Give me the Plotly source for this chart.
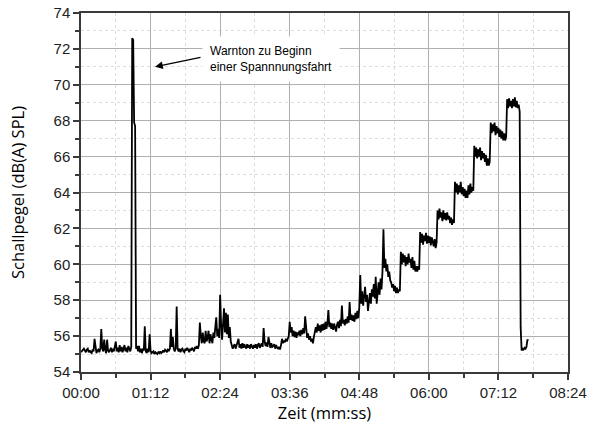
import plotly.graph_objects as go

# Sound level samples, one per second (dB(A) SPL)
level_dba = [
    # 0-49
    55.1, 55.15, 55.25, 55.3, 55.2, 55.1, 55.25, 55.3, 55.1, 55.2,
    55.1, 55.05, 55.25, 55.15, 55.85, 55.2, 55.05, 55.2, 55.25, 55.1,
    55.3, 56.4, 55.3, 55.15, 55.8, 55.25, 55.05, 55.8, 55.2, 55.1,
    55.25, 55.35, 55.1, 55.3, 55.15, 55.4, 55.7, 55.15, 55.35, 55.1,
    55.5, 55.15, 55.4, 55.1, 55.3, 55.5, 55.15, 55.35, 55.1, 55.45,
    # 50-99
    55.3, 55.15, 55.4, 72.6, 72.5, 67.9, 67.7, 55.3, 55.45, 55.15,
    55.45, 55.1, 55.3, 55.05, 55.25, 55.2, 56.55, 55.15, 55.05, 55.3,
    55.1, 56.1, 55.2, 55.05, 55.1, 55.15, 55.0, 55.1, 55.05, 55.0,
    55.1, 55.05, 55.15, 55.05, 55.1, 55.2, 55.1, 55.25, 55.2, 55.1,
    55.25, 55.2, 55.3, 56.4, 55.4, 55.95, 55.3, 55.15, 55.3, 57.65,
    # 100-149
    55.3, 55.15, 55.3, 55.1, 55.25, 55.3, 55.15, 55.1, 55.3, 55.2,
    55.35, 55.15, 55.1, 55.3, 55.2, 55.35, 55.2, 55.15, 55.4, 55.3,
    55.45, 55.3, 55.5, 56.75, 56.0, 55.6, 56.2, 55.7, 55.6, 56.3,
    55.7, 55.9, 56.3, 55.6, 56.1, 55.8, 55.6, 56.2, 55.9, 56.5,
    57.05, 56.0, 56.4, 55.9, 58.3, 56.6, 55.8, 56.7, 57.55, 56.2,
    # 150-199
    57.3, 56.1, 57.2, 55.9, 56.5, 55.7, 55.45, 55.3, 55.45, 55.55,
    55.3, 55.5, 55.6, 55.85, 55.35, 55.55, 55.3, 55.6, 55.35, 55.55,
    55.4, 55.3, 55.55, 55.35, 55.5, 55.3, 55.55, 55.35, 55.3, 55.5,
    55.35, 55.55, 55.3, 55.5, 55.6, 55.35, 55.55, 55.6, 55.4, 56.45,
    55.7, 55.45, 55.65, 55.4, 55.95, 55.5, 55.35, 55.6, 55.4, 55.45,
    # 200-249
    55.55, 55.3, 55.5, 55.35, 55.3, 55.4, 55.25, 55.5, 55.85, 55.6,
    55.75, 55.65, 55.85, 55.7, 55.9, 56.0, 56.8, 56.2, 56.5, 56.0,
    56.3, 55.95, 56.25, 55.9, 56.2, 56.05, 56.3, 56.0, 56.35, 56.1,
    56.45, 56.15, 57.1, 56.3, 55.9, 56.15, 55.8, 56.0, 55.7, 55.85,
    55.6, 55.95, 56.2, 56.5, 56.2, 56.7, 56.3, 56.6, 56.2, 56.65,
    # 250-299
    56.3, 56.7, 56.35, 56.8, 56.4, 56.7, 57.45, 56.5, 56.75, 56.4,
    56.7, 56.35, 56.7, 56.4, 56.25, 56.65, 56.8, 56.45, 56.9, 56.55,
    57.7, 56.7, 56.9, 56.6, 56.95, 56.7, 57.1, 56.75, 57.9, 56.9,
    57.2, 56.85, 57.15, 56.8, 57.3, 56.95, 57.4, 57.0, 57.6, 59.4,
    57.8, 58.5, 57.7, 58.2, 58.75, 57.9, 58.3, 57.4, 58.0, 58.4,
    # 300-349
    57.8, 58.6, 58.2, 58.9, 58.1, 59.3, 57.8, 58.7, 59.0, 58.3,
    59.2, 58.6, 59.6, 61.95, 59.8, 60.3, 59.6, 60.0, 59.3, 59.6,
    59.1, 59.0, 58.7, 58.9, 58.5, 58.8, 58.4, 58.7, 58.4, 58.6,
    58.5, 60.7, 60.0, 60.6, 60.1, 60.5, 59.9, 60.4, 60.0, 60.6,
    60.1, 60.3, 59.8, 60.4, 59.7, 60.2, 59.6, 59.9, 59.6, 59.9,
    # 350-399
    59.7, 61.8, 61.2, 61.7, 61.1, 61.6, 61.3, 61.75, 61.15, 61.6,
    61.2, 61.55, 61.05, 61.5, 61.2, 61.0, 61.4, 60.9, 61.2, 63.0,
    62.5, 63.1, 62.6, 62.9, 62.4, 63.0, 62.5, 62.85, 62.45, 62.9,
    62.5, 62.7, 62.3, 62.6, 62.2, 62.5, 62.3, 64.6, 64.0, 64.5,
    63.9, 64.4, 64.0, 64.6, 63.9, 64.3, 63.8, 64.2, 63.7, 64.1,
    # 400-449
    63.7, 64.4, 63.9, 64.5, 64.0, 64.3, 64.1, 66.6, 66.0, 66.5,
    65.9, 66.4, 66.0, 66.5, 65.8, 66.3, 65.9, 66.2, 65.7, 66.1,
    65.5, 65.9, 65.5, 65.7, 67.9, 67.3, 67.8, 67.4, 67.9, 67.2,
    67.7, 67.3, 67.6, 67.1, 67.5, 67.0, 67.4, 66.9, 67.3, 66.9,
    67.1, 69.2, 68.7, 69.25, 68.8, 69.1, 68.7, 69.2, 68.8, 69.3,
    # 450-463
    68.75, 69.1, 68.7, 68.9, 68.5, 56.5, 55.2, 55.3, 55.25, 55.35,
    55.3, 55.4, 55.8, 55.75,
]
sample_period_s = 1
time_s = [i * sample_period_s for i in range(len(level_dba))]

x_tick_vals = [0, 72, 144, 216, 288, 360, 432, 504]
x_tick_text = ["00:00", "01:12", "02:24", "03:36", "04:48", "06:00", "07:12", "08:24"]

annotation_text = "Warnton zu Beginn<br>einer Spannnungsfahrt"

fig = go.Figure()
fig.add_trace(go.Scatter(
    x=time_s, y=level_dba, mode="lines",
    line=dict(color="black", width=1.8),
    showlegend=False, hoverinfo="skip",
))

axis_color = "#3a3a3a"
tick_font = dict(family="Liberation Sans, Arial", size=15, color="#222222")

fig.update_xaxes(
    range=[0, 504], tickmode="array", tickvals=x_tick_vals, ticktext=x_tick_text,
    ticks="outside", ticklen=6, tickwidth=1.5, tickcolor=axis_color,
    showline=True, linecolor=axis_color, linewidth=1.5, mirror=True,
    showgrid=True, gridcolor="#b0b0b0", gridwidth=1,
    zeroline=False, tickfont=tick_font, automargin=False,
    minor=dict(tickmode="linear", tick0=0, dtick=36, ticks="outside", ticklen=4,
               tickwidth=1.5, tickcolor=axis_color, showgrid=True,
               gridcolor="#dddddd", griddash="dot", gridwidth=1),
    title=dict(text="Zeit (mm:ss)", font=dict(family="Open Sans", size=16.5, color="black"),
               standoff=4),
)
fig.update_yaxes(
    range=[54, 74], tickmode="linear", tick0=54, dtick=2,
    ticks="outside", ticklen=6, tickwidth=1.5, tickcolor=axis_color,
    showline=True, linecolor=axis_color, linewidth=1.5, mirror=True,
    showgrid=True, gridcolor="#b0b0b0", gridwidth=1,
    zeroline=False, tickfont=tick_font, automargin=False,
    minor=dict(tickmode="linear", tick0=54, dtick=1, ticks="outside", ticklen=4,
               tickwidth=1.5, tickcolor=axis_color, showgrid=True,
               gridcolor="#dddddd", griddash="dot", gridwidth=1),
    title=dict(text="Schallpegel (dB(A) SPL)", font=dict(family="Open Sans", size=16.5, color="black"),
               standoff=25),
)

fig.add_annotation(
    x=125.3, y=71.44, xref="x", yref="y", xanchor="left", yanchor="middle",
    text=annotation_text, showarrow=False, align="left",
    font=dict(family="Liberation Sans, Arial", size=12, color="black"),
    bgcolor="white", borderpad=7,
)
fig.add_annotation(
    x=76.6, y=71.0, xref="x", yref="y", text="",
    showarrow=True, ax=125.2, ay=71.55, axref="x", ayref="y",
    arrowhead=2, arrowsize=1.2, arrowwidth=1.3, arrowcolor="black",
)

fig.update_layout(
    width=594, height=425,
    margin=dict(l=81, r=26, t=13, b=53),
    paper_bgcolor="white", plot_bgcolor="white",
    template="none",
)

fig.write_html("out.html")
